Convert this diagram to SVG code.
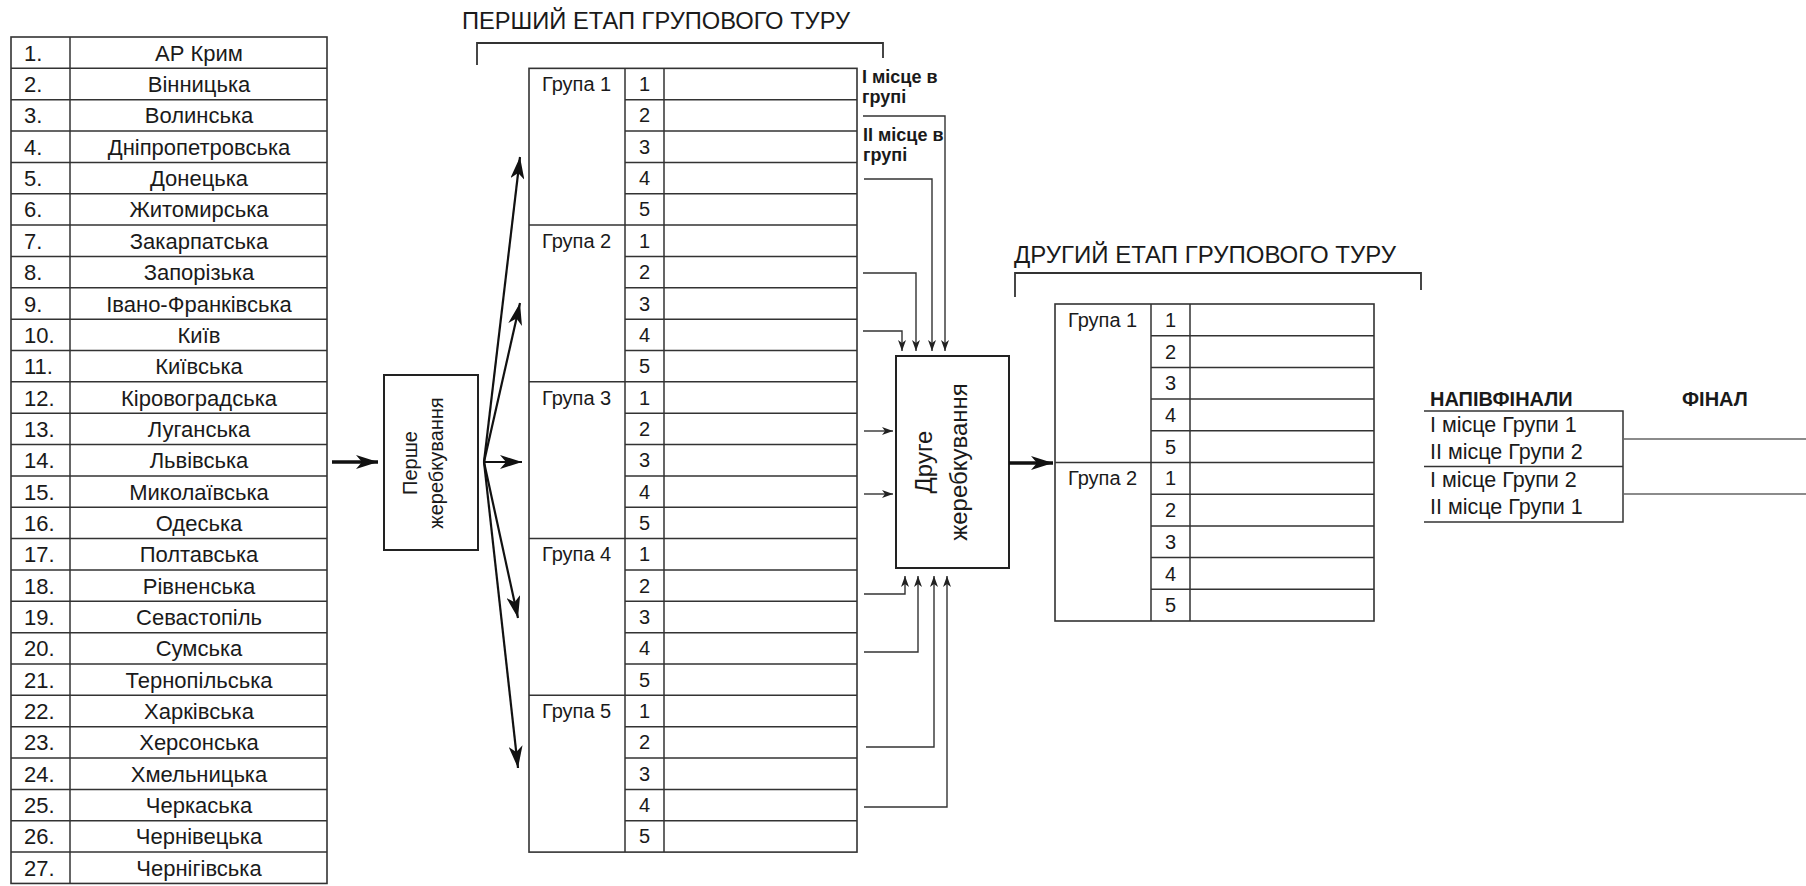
<svg xmlns="http://www.w3.org/2000/svg" width="1806" height="886" viewBox="0 0 1806 886">
<style>
.t{font-family:"Liberation Sans",Arial,sans-serif;fill:#1a1a1a}
.r22{font-size:22px}
.r20{font-size:20px}
.c{text-anchor:middle}
.b{font-weight:bold}
.cell{fill:none;stroke:#333;stroke-width:1.6}
.ln{fill:none;stroke:#333;stroke-width:1.5}
.box{fill:#fff;stroke:#222;stroke-width:2}
.thin{fill:none;stroke:#333;stroke-width:1.4}
.fan{fill:none;stroke:#111;stroke-width:2.2}
.thick{fill:none;stroke:#111;stroke-width:3.5}
</style>
<defs>
<marker id="big" markerUnits="userSpaceOnUse" markerWidth="24" markerHeight="14" refX="22" refY="7" orient="auto"><path d="M0,0 L22,7 L0,14 L6,7 Z" fill="#111"/></marker>
<marker id="sm" markerUnits="userSpaceOnUse" markerWidth="12" markerHeight="8" refX="11" refY="4" orient="auto"><path d="M0,0 L11,4 L0,8 L3,4 Z" fill="#222"/></marker>
</defs>
<rect width="1806" height="886" fill="#fff"/>

<g id="regions-table">
<rect class="cell" x="11" y="37" width="316" height="846.45"/>
<line class="ln" x1="70" y1="37" x2="70" y2="883.45"/>
<path class="ln" d="M11,68.35H327M11,99.7H327M11,131.05H327M11,162.4H327M11,193.75H327M11,225.1H327M11,256.45H327M11,287.8H327M11,319.15H327M11,350.5H327M11,381.85H327M11,413.2H327M11,444.55H327M11,475.9H327M11,507.25H327M11,538.6H327M11,569.95H327M11,601.3H327M11,632.65H327M11,664H327M11,695.35H327M11,726.7H327M11,758.05H327M11,789.4H327M11,820.75H327M11,852.1H327"/>
<g class="t r22">
<text x="24" y="60.7">1.</text><text x="24" y="92">2.</text><text x="24" y="123.4">3.</text><text x="24" y="154.7">4.</text><text x="24" y="186.1">5.</text><text x="24" y="217.4">6.</text><text x="24" y="248.8">7.</text><text x="24" y="280.1">8.</text><text x="24" y="311.5">9.</text><text x="24" y="342.8">10.</text><text x="24" y="374.2">11.</text><text x="24" y="405.5">12.</text><text x="24" y="436.9">13.</text><text x="24" y="468.2">14.</text><text x="24" y="499.6">15.</text><text x="24" y="530.9">16.</text><text x="24" y="562.3">17.</text><text x="24" y="593.6">18.</text><text x="24" y="625">19.</text><text x="24" y="656.3">20.</text><text x="24" y="687.7">21.</text><text x="24" y="719">22.</text><text x="24" y="750.4">23.</text><text x="24" y="781.7">24.</text><text x="24" y="813.1">25.</text><text x="24" y="844.4">26.</text><text x="24" y="875.8">27.</text>
</g>
<g class="t r22 c">
<text x="199" y="60.7">АР Крим</text><text x="199" y="92">Вінницька</text><text x="199" y="123.4">Волинська</text><text x="199" y="154.7">Дніпропетровська</text><text x="199" y="186.1">Донецька</text><text x="199" y="217.4">Житомирська</text><text x="199" y="248.8">Закарпатська</text><text x="199" y="280.1">Запорізька</text><text x="199" y="311.5">Івано-Франківська</text><text x="199" y="342.8">Київ</text><text x="199" y="374.2">Київська</text><text x="199" y="405.5">Кіровоградська</text><text x="199" y="436.9">Луганська</text><text x="199" y="468.2">Львівська</text><text x="199" y="499.6">Миколаївська</text><text x="199" y="530.9">Одеська</text><text x="199" y="562.3">Полтавська</text><text x="199" y="593.6">Рівненська</text><text x="199" y="625">Севастопіль</text><text x="199" y="656.3">Сумська</text><text x="199" y="687.7">Тернопільська</text><text x="199" y="719">Харківська</text><text x="199" y="750.4">Херсонська</text><text x="199" y="781.7">Хмельницька</text><text x="199" y="813.1">Черкаська</text><text x="199" y="844.4">Чернівецька</text><text x="199" y="875.8">Чернігівська</text>
</g>
</g>

<g id="draw1">
<rect class="box" x="384" y="375" width="94" height="175"/>
<text class="t r20 c" transform="translate(417,463) rotate(-90)">Перше</text>
<text class="t r20 c" transform="translate(443,463) rotate(-90)">жеребкування</text>
</g>

<g id="stage1-title">
<text class="t c" style="font-size:23.7px" x="656" y="29">ПЕРШИЙ ЕТАП ГРУПОВОГО ТУРУ</text>
<path class="ln" d="M477,65V43H883V58" style="stroke-width:1.8"/>
</g>

<g id="stage1-table">
<rect class="cell" x="529" y="68.35" width="328" height="783.75"/>
<path class="ln" d="M625,68.35V852.1M664,68.35V852.1"/>
<path class="ln" d="M529,225.1H857M529,381.85H857M529,538.6H857M529,695.35H857"/>
<path class="ln" d="M625,99.7H857M625,131.05H857M625,162.4H857M625,193.75H857M625,256.45H857M625,287.8H857M625,319.15H857M625,350.5H857M625,413.2H857M625,444.55H857M625,475.9H857M625,507.25H857M625,569.95H857M625,601.3H857M625,632.65H857M625,664H857M625,726.7H857M625,758.05H857M625,789.4H857M625,820.75H857"/>
<g class="t r20">
<text x="542" y="91">Група 1</text><text x="542" y="247.8">Група 2</text><text x="542" y="404.5">Група 3</text><text x="542" y="561.3">Група 4</text><text x="542" y="718">Група 5</text>
</g>
<g class="t r20 c">
<text x="644.5" y="91">1</text><text x="644.5" y="122.4">2</text><text x="644.5" y="153.7">3</text><text x="644.5" y="185.1">4</text><text x="644.5" y="216.4">5</text>
<text x="644.5" y="247.8">1</text><text x="644.5" y="279.1">2</text><text x="644.5" y="310.5">3</text><text x="644.5" y="341.8">4</text><text x="644.5" y="373.2">5</text>
<text x="644.5" y="404.5">1</text><text x="644.5" y="435.9">2</text><text x="644.5" y="467.2">3</text><text x="644.5" y="498.6">4</text><text x="644.5" y="529.9">5</text>
<text x="644.5" y="561.3">1</text><text x="644.5" y="592.6">2</text><text x="644.5" y="624">3</text><text x="644.5" y="655.3">4</text><text x="644.5" y="686.7">5</text>
<text x="644.5" y="718">1</text><text x="644.5" y="749.4">2</text><text x="644.5" y="780.7">3</text><text x="644.5" y="812.1">4</text><text x="644.5" y="843.4">5</text>
</g>
</g>

<g id="place-labels" class="t b" style="font-size:18px">
<text x="862" y="83">І місце в</text><text x="862" y="103">групі</text>
<text x="863" y="141">ІІ місце в</text><text x="863" y="161">групі</text>
</g>

<g id="draw2">
<rect class="box" x="896" y="356" width="113" height="212"/>
<text class="t c" style="font-size:24px" transform="translate(932,462) rotate(-90)">Друге</text>
<text class="t c" style="font-size:24px" transform="translate(967,462) rotate(-90)">жеребкування</text>
</g>

<g id="stage2-title">
<text class="t c" style="font-size:24px" x="1205" y="263">ДРУГИЙ ЕТАП ГРУПОВОГО ТУРУ</text>
<path class="ln" d="M1015,297V273H1421V290" style="stroke-width:1.8"/>
</g>

<g id="stage2-table">
<rect class="cell" x="1055" y="304" width="319" height="317"/>
<path class="ln" d="M1151,304V621M1190,304V621M1055,462.5H1374"/>
<path class="ln" d="M1151,335.7H1374M1151,367.4H1374M1151,399.1H1374M1151,430.8H1374M1151,494.2H1374M1151,525.9H1374M1151,557.6H1374M1151,589.3H1374"/>
<g class="t r20">
<text x="1068" y="326.9">Група 1</text><text x="1068" y="485.4">Група 2</text>
</g>
<g class="t r20 c">
<text x="1170.5" y="326.9">1</text><text x="1170.5" y="358.6">2</text><text x="1170.5" y="390.3">3</text><text x="1170.5" y="422">4</text><text x="1170.5" y="453.7">5</text>
<text x="1170.5" y="485.4">1</text><text x="1170.5" y="517.1">2</text><text x="1170.5" y="548.8">3</text><text x="1170.5" y="580.5">4</text><text x="1170.5" y="612.2">5</text>
</g>
</g>

<g id="semifinals">
<text class="t b" style="font-size:20px" x="1430" y="406">НАПІВФІНАЛИ</text>
<path class="ln" d="M1424,411H1623V522H1424M1424,466.5H1623"/>
<g class="t" style="font-size:21.5px">
<text x="1430" y="432">І місце Групи 1</text>
<text x="1430" y="459">ІІ місце Групи 2</text>
<text x="1430" y="487">І місце Групи 2</text>
<text x="1430" y="514">ІІ місце Групи 1</text>
</g>
</g>

<g id="final">
<text class="t b" style="font-size:20px" x="1682" y="406">ФІНАЛ</text>
</g>

<g id="connectors">
<line class="thick" x1="332" y1="462" x2="378" y2="462" marker-end="url(#big)"/>
<line class="fan" x1="484" y1="462" x2="520" y2="157" marker-end="url(#big)"/>
<line class="fan" x1="484" y1="462" x2="520" y2="303" marker-end="url(#big)"/>
<line class="fan" x1="484" y1="462" x2="522" y2="462" marker-end="url(#big)"/>
<line class="fan" x1="484" y1="462" x2="518" y2="618" marker-end="url(#big)"/>
<line class="fan" x1="484" y1="462" x2="518" y2="768" marker-end="url(#big)"/>
<path class="thin" d="M863,116H945V351" marker-end="url(#sm)"/>
<path class="thin" d="M864,179H932V351" marker-end="url(#sm)"/>
<path class="thin" d="M863,273H916V351" marker-end="url(#sm)"/>
<path class="thin" d="M863,331H902V351" marker-end="url(#sm)"/>
<path class="thin" d="M864,431H893" marker-end="url(#sm)"/>
<path class="thin" d="M864,494H893" marker-end="url(#sm)"/>
<path class="thin" d="M864,594H905V576" marker-end="url(#sm)"/>
<path class="thin" d="M864,652H918V576" marker-end="url(#sm)"/>
<path class="thin" d="M866,747H934V576" marker-end="url(#sm)"/>
<path class="thin" d="M864,807H947V576" marker-end="url(#sm)"/>
<line class="thick" x1="1009" y1="463" x2="1053" y2="463" marker-end="url(#big)"/>
<path class="ln" d="M1623,439H1806M1623,494H1806" style="stroke:#666"/>
</g>
</svg>
